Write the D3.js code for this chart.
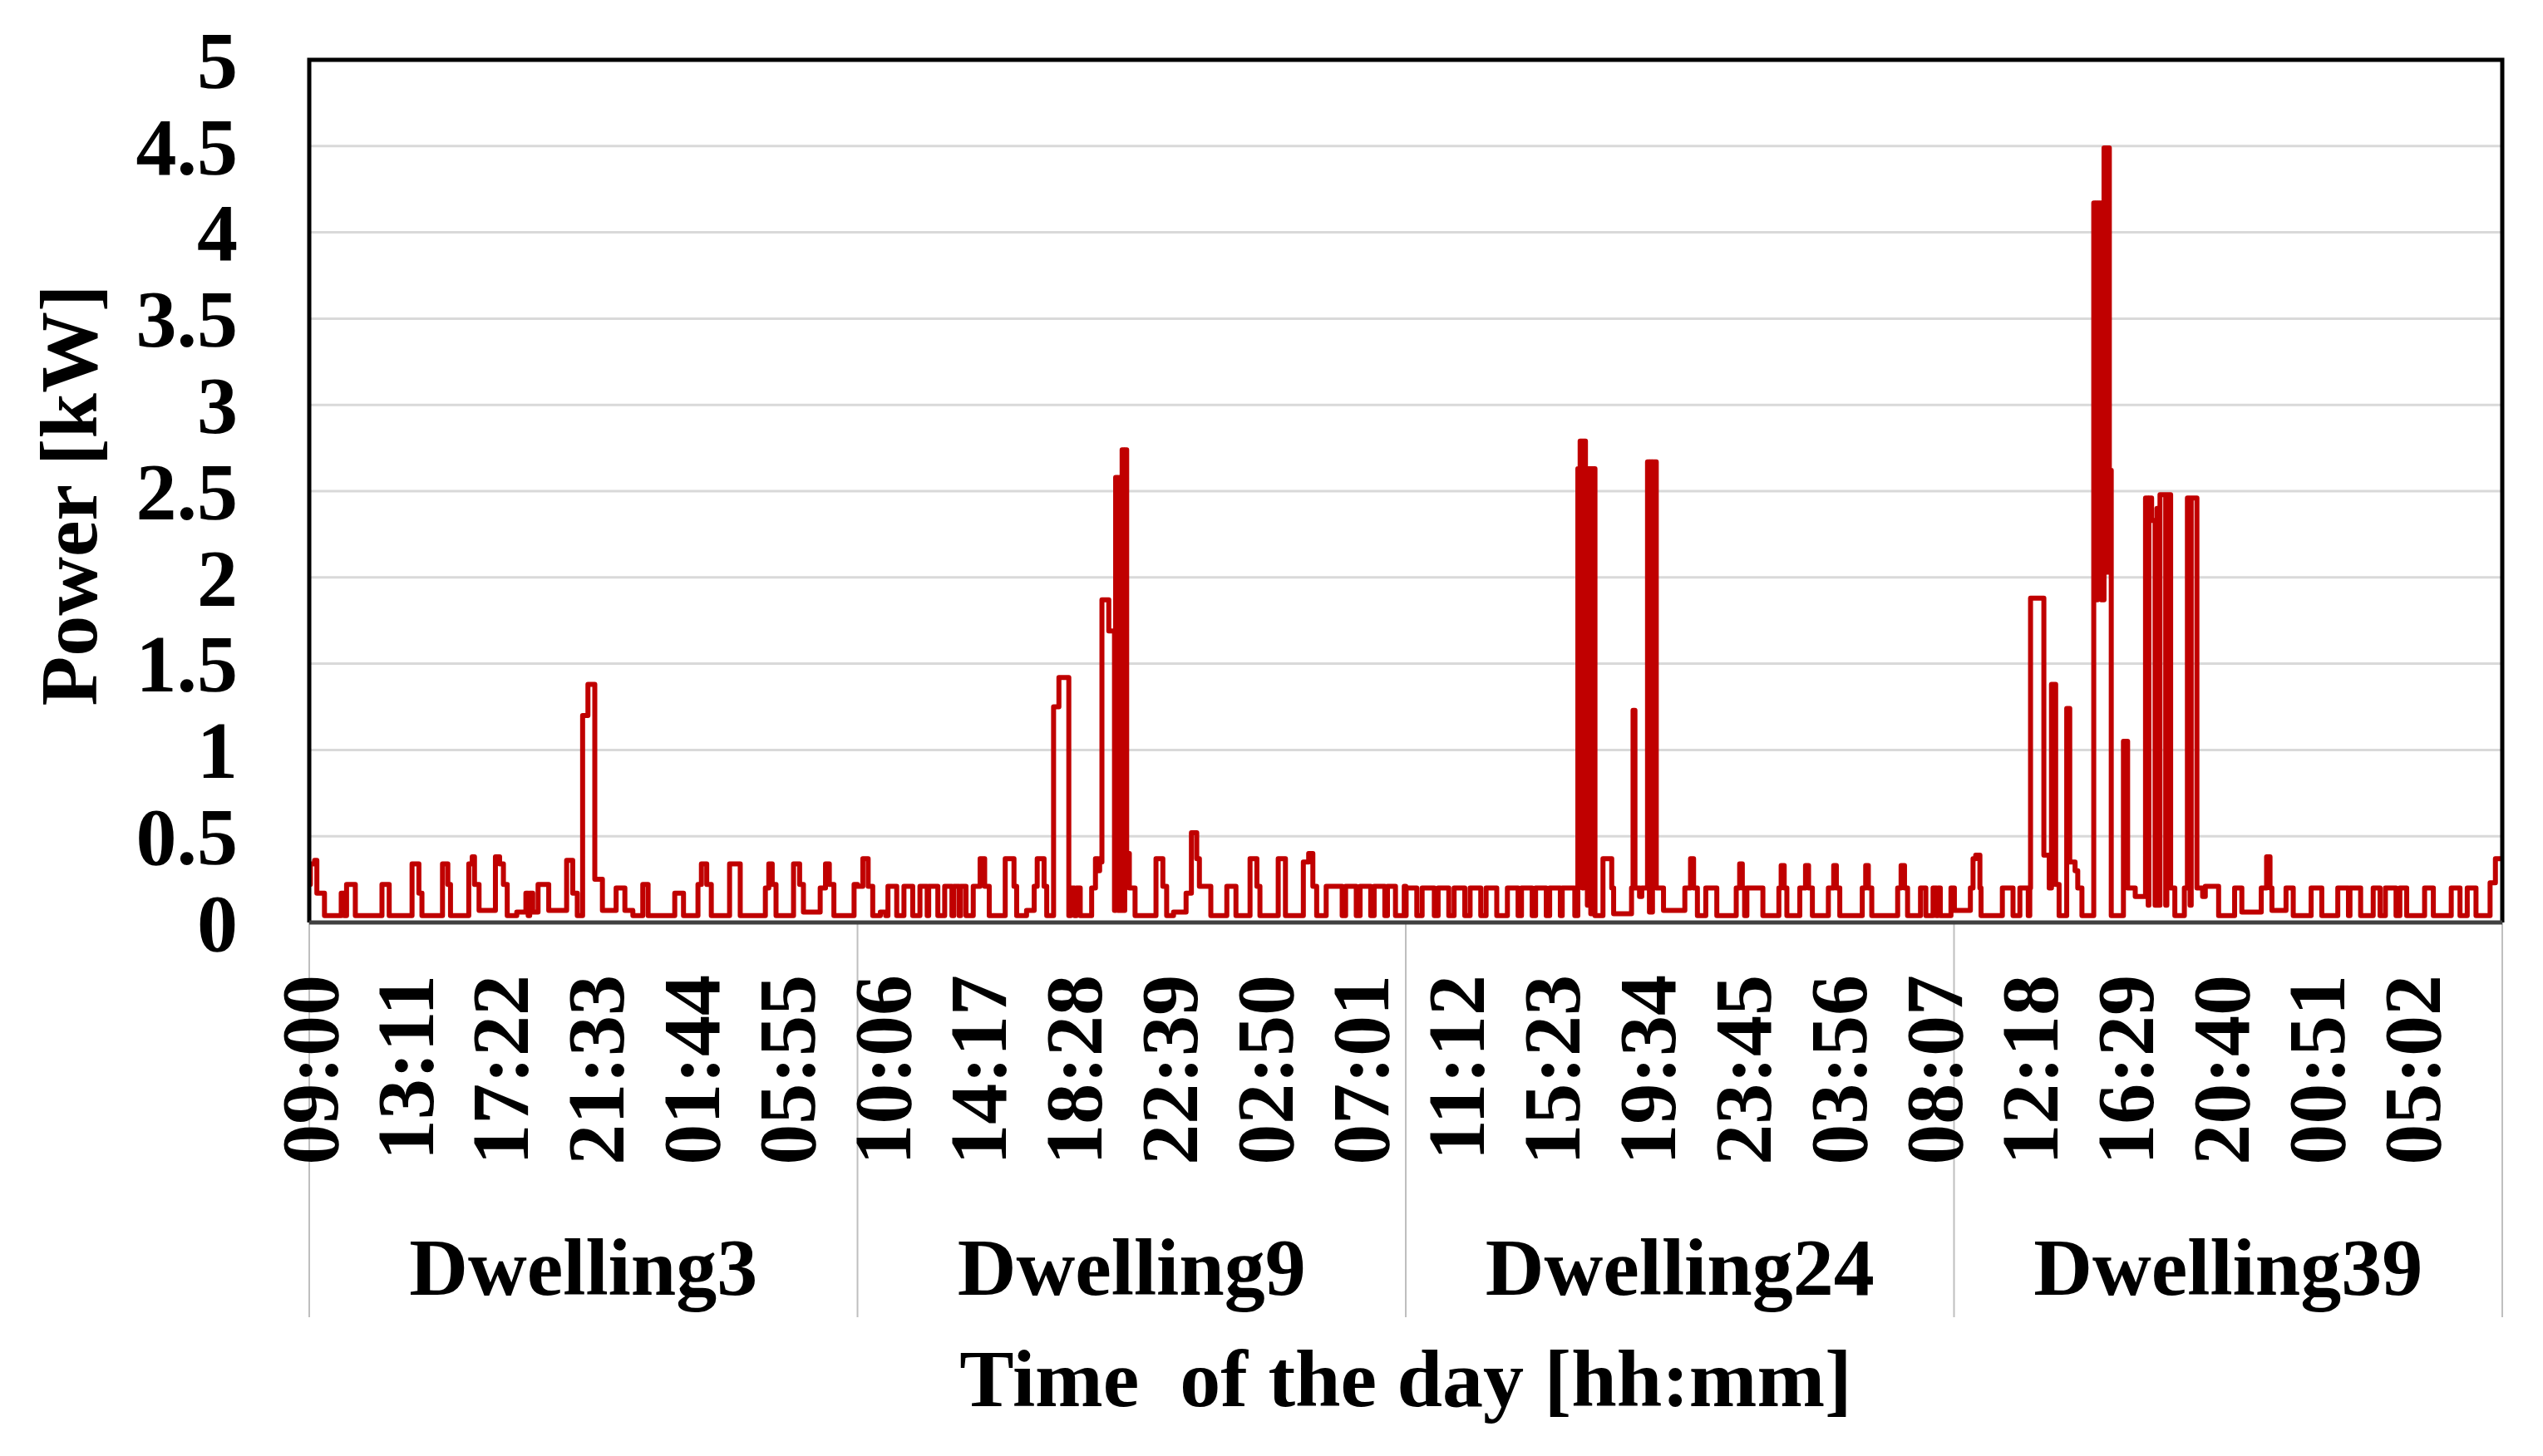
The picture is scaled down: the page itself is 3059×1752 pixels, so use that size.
<!DOCTYPE html>
<html>
<head>
<meta charset="utf-8">
<script src="https://cdn.jsdelivr.net/npm/d3@7"></script>
<style>
    body { margin: 0; background: #fff; }
    text { font-family: "Liberation Serif", "Times New Roman", serif; font-weight: bold; fill: #000; }
</style>
</head>
<body>
<div id="chart"></div>
<script>

// dwellings shown side by side, one day (1440 min) each
let dwellings = ["Dwelling3", "Dwelling9", "Dwelling24", "Dwelling39"];
let minutesPerDwelling = 1440;

// category labels, one every 251 minutes
let timeLabels = ["09:00", "13:11", "17:22", "21:33", "01:44", "05:55",
    "10:06", "14:17", "18:28", "22:39", "02:50", "07:01",
    "11:12", "15:23", "19:34", "23:45", "03:56", "08:07",
    "12:18", "16:29", "20:40", "00:51", "05:02"];
let labelStep = 251;

let yTicks = [0, 0.5, 1, 1.5, 2, 2.5, 3, 3.5, 4, 4.5, 5];

// power readings [minute of the dwelling's day, kW], held until the next reading
let dwelling3 = [[0,0.22],[3,0.34],[14,0.36],[20,0.17],[40,0.04],[84,0.17],[92,0.04],[98,0.22],[121,0.04],
    [191,0.22],[210,0.04],[270,0.34],[288,0.17],[296,0.04],[350,0.34],[364,0.22],[371,0.04],[419,0.34],
    [428,0.38],[434,0.22],[446,0.07],[489,0.38],[500,0.34],[510,0.22],[520,0.04],[545,0.06],[569,0.17],
    [575,0.04],[579,0.17],[587,0.06],[601,0.22],[629,0.07],[676,0.36],[692,0.17],[704,0.04],[718,1.2],
    [732,1.38],[750,0.25],[770,0.07],[806,0.2],[829,0.07],[850,0.04],[876,0.22],[890,0.04],[960,0.17],
    [983,0.04],[1021,0.22],[1030,0.34],[1044,0.22],[1056,0.04],[1104,0.34],[1132,0.04],[1198,0.2],
    [1207,0.34],[1216,0.22],[1226,0.04],[1272,0.34],[1288,0.22],[1298,0.06],[1342,0.2],[1356,0.34],
    [1366,0.22],[1378,0.04],[1431,0.22]];

let dwelling9 = [[0,0.21],[14,0.37],[28,0.21],[40,0.04],[60,0.06],[74,0.04],[80,0.21],[103,0.04],[122,0.21],
    [145,0.04],[164,0.21],[183,0.04],[187,0.21],[211,0.04],[229,0.21],[248,0.04],[253,0.21],[267,0.04],
    [271,0.21],[285,0.04],[304,0.21],[322,0.37],[334,0.21],[346,0.04],[388,0.37],[411,0.21],[418,0.04],
    [444,0.07],[464,0.21],[472,0.37],[490,0.21],[497,0.04],[515,1.25],[529,1.42],[555,0.04],[560,0.2],
    [570,0.04],[575,0.2],[585,0.04],[615,0.2],[625,0.37],[632,0.3],[636,0.35],[642,1.87],[660,1.69],
    [675,0.07],[678,2.58],[684,0.07],[688,2.58],[692,0.07],[695,2.74],[700,0.07],[702,2.74],[707,0.4],
    [714,0.2],[729,0.04],[784,0.37],[802,0.21],[812,0.04],[830,0.06],[863,0.17],[877,0.52],[891,0.37],
    [898,0.21],[928,0.04],[970,0.21],[994,0.04],[1031,0.37],[1049,0.21],[1057,0.04],[1105,0.37],
    [1124,0.04],[1171,0.35],[1185,0.4],[1196,0.21],[1206,0.04],[1231,0.21],[1273,0.04],[1282,0.21],
    [1310,0.04],[1320,0.21],[1348,0.04],[1357,0.21],[1385,0.04],[1392,0.21],[1413,0.04],[1436,0.21]];

let dwelling24 = [[0,0.04],[1,0.2],[29,0.04],[43,0.2],[75,0.04],[85,0.2],[113,0.04],[127,0.2],[155,0.04],
    [169,0.2],[197,0.04],[211,0.2],[239,0.04],[267,0.2],[295,0.04],[304,0.2],[332,0.04],[341,0.2],
    [369,0.04],[378,0.2],[406,0.04],[411,0.2],[444,0.04],[452,2.63],[458,2.79],[464,0.2],[467,2.79],
    [472,2.63],[477,0.1],[479,2.63],[486,0.05],[488,2.63],[497,0.04],[518,0.37],[541,0.2],[546,0.05],
    [593,0.2],[597,1.23],[602,0.2],[614,0.15],[620,0.2],[635,2.67],[640,0.06],[642,2.67],[646,0.06],
    [648,2.67],[658,0.2],[677,0.07],[733,0.2],[748,0.37],[756,0.2],[766,0.04],[788,0.2],[817,0.04],
    [868,0.2],[877,0.34],[884,0.2],[890,0.04],[896,0.2],[938,0.04],[980,0.2],[986,0.33],[994,0.2],
    [1001,0.04],[1035,0.2],[1050,0.33],[1058,0.2],[1068,0.04],[1110,0.2],[1124,0.33],[1131,0.2],
    [1140,0.04],[1199,0.2],[1208,0.33],[1215,0.2],[1224,0.04],[1292,0.2],[1301,0.33],[1310,0.2],
    [1318,0.04],[1352,0.2],[1366,0.04],[1385,0.2],[1394,0.04],[1398,0.2],[1404,0.04],[1432,0.2]];

let dwelling39 = [[0,0.2],[1,0.07],[43,0.2],[50,0.37],[57,0.39],[68,0.2],[71,0.04],[127,0.2],[155,0.04],
    [173,0.2],[195,0.04],[199,0.2],[201,1.88],[236,0.39],[250,0.2],[256,1.38],[267,0.22],[276,0.04],
    [296,1.24],[304,0.35],[318,0.3],[325,0.2],[336,0.04],[367,4.17],[370,1.9],[372,4.17],[375,1.87],
    [377,4.17],[380,1.9],[382,4.17],[387,1.87],[394,4.49],[397,2.03],[399,4.49],[402,2.03],[404,4.49],
    [408,2.62],[413,0.04],[445,1.05],[456,0.2],[476,0.15],[503,2.46],[510,0.1],[512,2.46],[519,2.33],
    [528,0.1],[533,2.4],[538,0.1],[541,2.48],[556,0.1],[559,2.48],[569,0.2],[580,0.04],[605,0.2],
    [613,2.46],[620,0.1],[623,2.46],[638,0.2],[653,0.15],[660,0.21],[695,0.04],[737,0.2],[756,0.06],
    [807,0.2],[821,0.38],[830,0.2],[835,0.07],[872,0.2],[891,0.04],[938,0.2],[966,0.04],[1008,0.2],
    [1036,0.04],[1040,0.2],[1068,0.04],[1101,0.2],[1119,0.04],[1133,0.2],[1161,0.04],[1171,0.2],
    [1189,0.04],[1236,0.2],[1259,0.04],[1306,0.2],[1329,0.04],[1348,0.2],[1371,0.04],[1408,0.23],
    [1422,0.37]];

let seriesList = [dwelling3, dwelling9, dwelling24, dwelling39];


// * * * drawing * * *

let totalWidth = 3059, totalHeight = 1752;
let margin = {top: 72, right: 49, bottom: 642, left: 372};
let width = totalWidth - margin.left - margin.right;
let height = totalHeight - margin.top - margin.bottom;

let svg = d3.select("#chart").append("svg")
    .attr("width", totalWidth)
    .attr("height", totalHeight);

let g = svg.append("g")
    .attr("transform", `translate(${margin.left}, ${margin.top})`);

let totalMinutes = minutesPerDwelling * dwellings.length;

let x = d3.scaleLinear().domain([0, totalMinutes]).range([0, width]);
let y = d3.scaleLinear().domain([0, 5]).range([height, 0]);

// horizontal gridlines
g.selectAll(".grid")
    .data(yTicks.filter(d => d > 0 && d < 5))
    .enter().append("line")
    .attr("class", "grid")
    .attr("x1", 0).attr("x2", width)
    .attr("y1", d => y(d)).attr("y2", d => y(d))
    .attr("stroke", "#d9d9d9")
    .attr("stroke-width", 3);

// y axis labels
let yAxis = g.append("g")
    .call(d3.axisLeft(y).tickValues(yTicks).tickSize(0).tickPadding(86).tickFormat(d => String(d)));
yAxis.select(".domain").remove();
yAxis.selectAll("text")
    .attr("font-family", "Liberation Serif")
    .attr("font-weight", "bold")
    .attr("font-size", "98px")
    .attr("dy", "0.34em")
    .attr("fill", "#000");

// category separators below the axis
g.selectAll(".sep")
    .data(d3.range(dwellings.length + 1))
    .enter().append("line")
    .attr("class", "sep")
    .attr("x1", d => x(d * minutesPerDwelling)).attr("x2", d => x(d * minutesPerDwelling))
    .attr("y1", height).attr("y2", 1585 - margin.top)
    .attr("stroke", "#bfbfbf")
    .attr("stroke-width", 2);

// power line, one continuous step series
let points = [];
seriesList.forEach((s, i) => {
    s.forEach(p => points.push([i * minutesPerDwelling + p[0], p[1]]));
});
points.push([totalMinutes, dwelling39[dwelling39.length - 1][1]]);

let line = d3.line()
    .x(d => x(d[0]))
    .y(d => y(d[1]))
    .curve(d3.curveStepAfter);

g.append("path")
    .datum(points)
    .attr("d", line)
    .attr("fill", "none")
    .attr("stroke", "#c00000")
    .attr("stroke-width", 6)
    .attr("stroke-linejoin", "round");

// plot frame
g.append("path")
    .attr("d", `M0,${height}V0H${width}V${height}`)
    .attr("fill", "none")
    .attr("stroke", "#000")
    .attr("stroke-width", 5);
g.append("line")
    .attr("x1", 0).attr("x2", width)
    .attr("y1", height).attr("y2", height)
    .attr("stroke", "#404040")
    .attr("stroke-width", 5);

// rotated time labels
g.selectAll(".tlabel")
    .data(timeLabels)
    .enter().append("text")
    .attr("class", "tlabel")
    .attr("transform", (d, i) => `translate(${x(i * labelStep + 0.5)}, ${1173 - margin.top}) rotate(-90)`)
    .attr("text-anchor", "end")
    .attr("dy", "0.34em")
    .attr("font-size", "98px")
    .text(d => d);

// dwelling names
g.selectAll(".dlabel")
    .data(dwellings)
    .enter().append("text")
    .attr("class", "dlabel")
    .attr("x", (d, i) => x((i + 0.5) * minutesPerDwelling))
    .attr("y", 1558 - margin.top)
    .attr("text-anchor", "middle")
    .attr("font-size", "98px")
    .text(d => d);

// axis titles
svg.append("text")
    .attr("x", margin.left + width / 2)
    .attr("y", 1692)
    .attr("text-anchor", "middle")
    .attr("font-size", "98px")
    .attr("xml:space", "preserve")
    .text("Time  of the day [hh:mm]");

svg.append("text")
    .attr("transform", "translate(116, 596) rotate(-90)")
    .attr("text-anchor", "middle")
    .attr("font-size", "98px")
    .text("Power [kW]");

</script>
</body>
</html>
